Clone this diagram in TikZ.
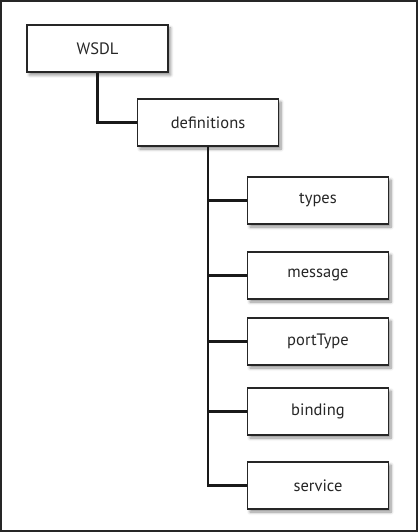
\documentclass[tikz,border=0pt]{standalone}
\usepackage{fontspec}
\setmainfont{PT Sans}
\usetikzlibrary{shadows.blur}
\begin{document}
\begin{tikzpicture}[x=1pt,y=-1pt,
  box/.style={draw=black!85, line width=1.6pt, fill=white, minimum width=141pt, minimum height=47pt, inner sep=0pt,
    font=\fontsize{16.5}{19}\selectfont, text=black!85,
    blur shadow={shadow xshift=2.5pt, shadow yshift=-3pt, shadow blur steps=6, shadow opacity=45, shadow blur radius=3pt}},
  conn/.style={draw=black!90, line width=2.6pt}]
\useasboundingbox (0,0) rectangle (418,532);
\draw[line width=1.5pt, black!85] (1,1) rectangle (417,531);
\node[box] (wsdl) at (97.5,48.5) {WSDL};
\node[box] (defs) at (208,122.5) {definitions};
\node[box] (types) at (318,200.5) {types};
\node[box] (msg) at (318,275.5) {message};
\node[box] (port) at (318,341.5) {portType};
\node[box] (bind) at (318,411.5) {binding};
\node[box] (serv) at (318,485.5) {service};
\draw[conn] (wsdl.south) |- (defs.west);
\draw[conn] (defs.south) |- (types.west);
\draw[conn] (defs.south) |- (msg.west);
\draw[conn] (defs.south) |- (port.west);
\draw[conn] (defs.south) |- (bind.west);
\draw[conn] (defs.south) |- (serv.west);
\end{tikzpicture}
\end{document}
